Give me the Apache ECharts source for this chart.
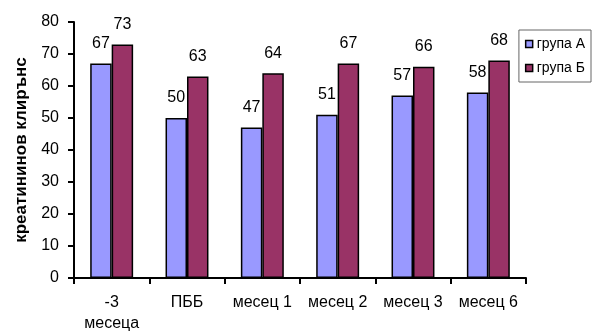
<!DOCTYPE html>
<html><head><meta charset="utf-8">
<script src="https://cdn.jsdelivr.net/npm/echarts@6/dist/echarts.min.js"></script>
<style>html,body{margin:0;padding:0;background:#fff}#c{width:592px;height:331px}</style>
</head><body><div id="c"></div>
<script>
var categories = ['-3\nмесеца', 'ПББ', 'месец 1', 'месец 2', 'месец 3', 'месец 6'];
var groupA = [67, 50, 47, 51, 57, 58];
var groupB = [73, 63, 64, 67, 66, 68];
var seriesNames = ['група А', 'група Б'];
var yTitle = 'креатининов клирънс';

var chart = echarts.init(document.getElementById('c'));
var font = 'Liberation Sans, Arial, sans-serif';
var lbl = {show: true, position: 'top', distance: 12, color: '#000', fontSize: 16, fontFamily: font};
chart.setOption({
  animation: false,
  grid: {left: 74, right: 66, top: 22, bottom: 53, containLabel: false, outerBoundsMode: 'none'},
  legend: {
    orient: 'vertical', right: 1, top: 30,
    padding: [7, 6, 7, 6], itemGap: 10,
    borderColor: '#666', borderWidth: 1,
    itemWidth: 7, itemHeight: 7, icon: 'rect',
    itemStyle: {borderColor: '#000', borderWidth: 1.5},
    textStyle: {fontSize: 14, fontFamily: font, color: '#000', padding: [0, 0, 0, -1]},
    data: seriesNames
  },
  xAxis: {
    type: 'category', data: categories,
    axisLine: {lineStyle: {color: '#000', width: 2}},
    axisTick: {show: true, length: 6, lineStyle: {color: '#000', width: 2}},
    axisLabel: {color: '#000', fontSize: 16, fontFamily: font, margin: 14, lineHeight: 21, interval: 0, hideOverlap: false}
  },
  yAxis: {
    type: 'value', min: 0, max: 80, interval: 10,
    name: yTitle, nameLocation: 'middle', nameGap: 44,
    nameTextStyle: {fontSize: 17, fontWeight: 'bold', fontFamily: font, color: '#000'},
    splitLine: {show: false},
    axisLine: {show: true, lineStyle: {color: '#000', width: 2}},
    axisTick: {show: true, length: 6, lineStyle: {color: '#000', width: 2}},
    axisLabel: {color: '#000', fontSize: 16, fontFamily: font, margin: 15}
  },
  series: [
    {name: seriesNames[0], type: 'bar', data: groupA, barGap: '0%', barCategoryGap: '43%',
     itemStyle: {color: '#9999FF', borderColor: '#000', borderWidth: 1.5}, label: lbl},
    {name: seriesNames[1], type: 'bar', data: groupB,
     itemStyle: {color: '#993366', borderColor: '#000', borderWidth: 1.5}, label: lbl}
  ]
});
</script></body></html>
